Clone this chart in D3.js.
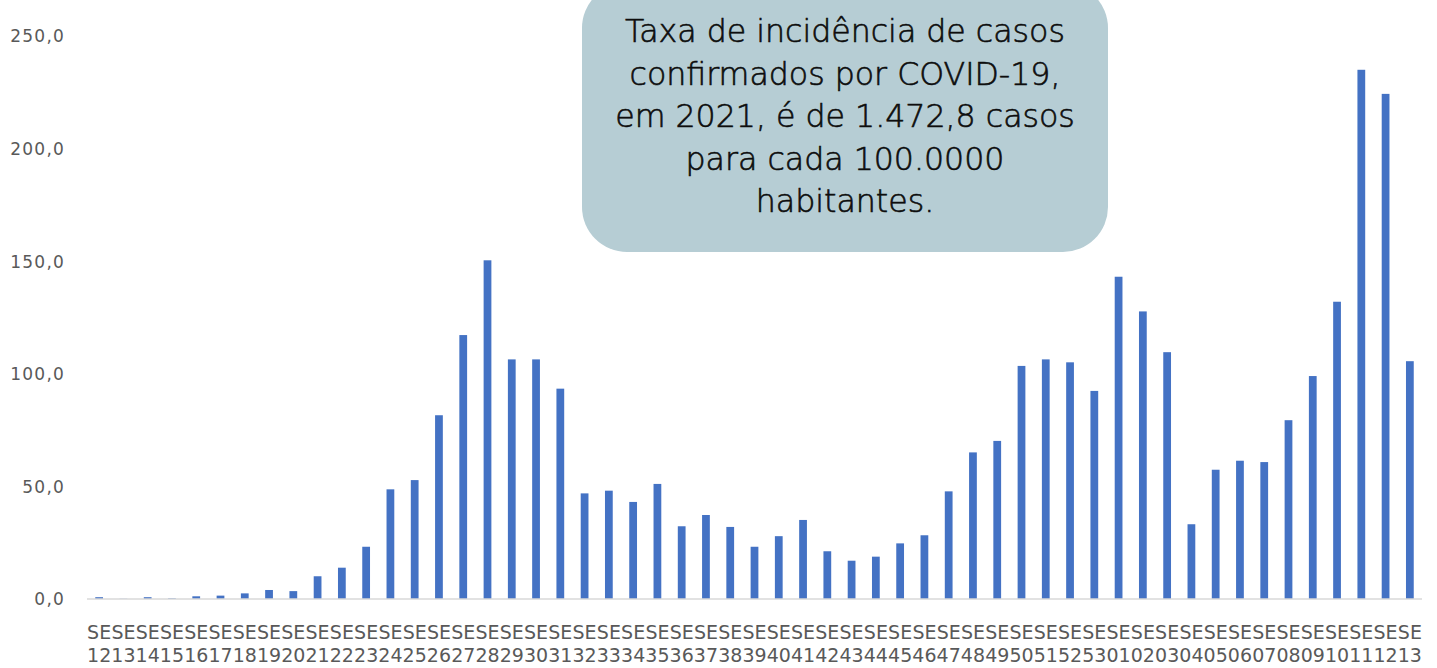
<!DOCTYPE html>
<html>
<head>
<meta charset="utf-8">
<script src="https://cdn.jsdelivr.net/npm/d3@7"></script>
<style>
  html, body { margin: 0; padding: 0; background: #fff; }
  svg { display: block; }
</style>
</head>
<body>
<svg id="chart" width="1437" height="668"></svg>
<script>
const weeks = ["12","13","14","15","16","17","18","19","20","21","22","23","24","25","26","27","28","29","30","31","32","33","34","35","36","37","38","39","40","41","42","43","44","45","46","47","48","49","50","51","52","53","01","02","03","04","05","06","07","08","09","10","11","12","13"];
const categories = weeks.map((w, i) => "SE" + w + "_" + i);
const values = [0.8,0.1,0.8,0.3,1.2,1.5,2.5,4.0,3.5,10.1,13.9,23.2,48.7,52.8,81.6,117.2,150.4,106.4,106.4,93.4,46.9,48.1,43.1,51.1,32.3,37.3,32.0,23.2,27.9,35.1,21.2,17.0,18.8,24.7,28.3,47.8,65.1,70.2,103.5,106.4,105.1,92.4,143.1,127.7,109.6,33.2,57.4,61.4,60.8,79.4,99.0,132.0,235.0,224.3,105.6];
const yTicks = [0, 50, 100, 150, 200, 250];
const noteLines = ["Taxa de incidência de casos", "confirmados por COVID-19,", "em 2021, é de 1.472,8 casos", "para cada 100.0000", "habitantes."];

const svg = d3.select("#chart");
const mLeft = 87, mRight = 1422, mTop = 36, mBottom = 599;

const x = d3.scaleBand().domain(categories).range([mLeft, mRight]).paddingInner(0.68).paddingOuter(0.34);
const y = d3.scaleLinear().domain([0, 250]).range([mBottom, mTop]);

// bars
svg.append("g").selectAll("rect").data(values).join("rect")
  .attr("x", (d, i) => x(categories[i]))
  .attr("y", d => y(d))
  .attr("width", x.bandwidth())
  .attr("height", d => y(0) - y(d))
  .attr("fill", "#4472C4");

// baseline
svg.append("line")
  .attr("x1", mLeft).attr("x2", mRight)
  .attr("y1", y(0)).attr("y2", y(0))
  .attr("stroke", "#d9d9d9").attr("stroke-width", 1.5);

// y axis labels
const fmt = v => d3.format(".1f")(v).replace(".", ",");
const yAxis = d3.axisLeft(y).tickValues(yTicks).tickFormat(fmt).tickSize(0).tickPadding(0);
const gy = svg.append("g").attr("transform", "translate(65,0)").call(yAxis);
gy.select(".domain").remove();
gy.selectAll("text")
  .attr("font-family", "'DejaVu Sans', sans-serif")
  .attr("font-size", 17)
  .attr("letter-spacing", 1.2)
  .attr("fill", "#595959")
  .attr("dy", "0.35em");

// x labels (two lines)
const xAxis = d3.axisBottom(x).tickSize(0).tickFormat("");
const gx = svg.append("g").attr("transform", `translate(0,${mBottom})`).call(xAxis);
gx.select(".domain").remove();
gx.selectAll(".tick").each(function(d, i) {
  const t = d3.select(this).append("text")
    .attr("font-family", "'DejaVu Sans', sans-serif")
    .attr("font-size", 19)
    .attr("fill", "#595959")
    .attr("text-anchor", "middle");
  t.append("tspan").attr("x", 0).attr("y", 40).text("SE");
  t.append("tspan").attr("x", 0).attr("y", 63).text(weeks[i]);
});

// note box
svg.append("rect")
  .attr("x", 582).attr("y", -17)
  .attr("width", 526).attr("height", 269)
  .attr("rx", 45).attr("ry", 45)
  .attr("fill", "#B6CDD4");

const note = svg.append("text")
  .attr("font-family", "'DejaVu Sans', sans-serif")
  .attr("font-weight", 300)
  .attr("font-size", 30)
  .attr("fill", "#0d0d0d")
  .attr("stroke", "#0d0d0d")
  .attr("stroke-width", 0.6)
  .attr("text-anchor", "middle");
noteLines.forEach((l, i) => {
  note.append("tspan").attr("x", 845).attr("y", 42 + i * 42.5).text(l);
});
// fit first line to reference width (~440px)
const w0 = note.select("tspan").node().getComputedTextLength();
note.attr("font-size", 30 * 440 / w0);
</script>
</body>
</html>
